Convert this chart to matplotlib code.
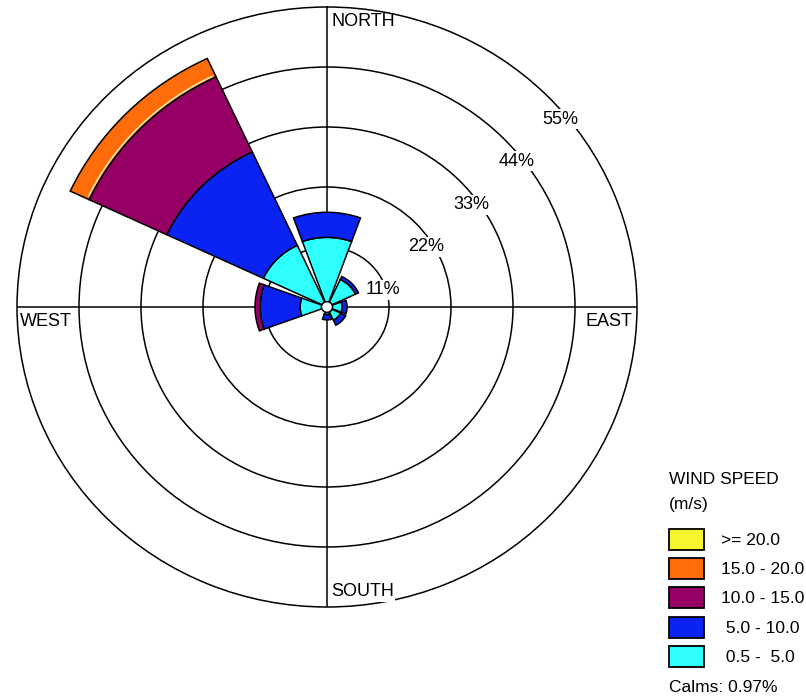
import numpy as np
import matplotlib
matplotlib.use("Agg")
import matplotlib.pyplot as plt
from matplotlib.patches import Rectangle

plt.rcParams['font.family'] = ['Liberation Sans', 'DejaVu Sans']

# ---- data -------------------------------------------------------------
directions = ['N', 'NE', 'E', 'SE', 'S', 'SW', 'W', 'NW']
bearings_deg = [0, 45, 90, 135, 180, 225, 270, 315]

# frequency (%) of each speed class per direction
freq_0p5_5 = [11.8, 4.6, 1.7, 1.7, 0.4, 0.0, 3.8, 11.5]
freq_5_10 = [4.6, 0.6, 0.9, 1.0, 1.0, 0.0, 7.1, 18.9]
freq_10_15 = [0.0, 0.0, 0.0, 0.0, 0.0, 0.0, 0.9, 15.2]
freq_15_20 = [0.0, 0.0, 0.0, 0.0, 0.0, 0.0, 0.0, 3.7]
freq_ge20 = [0.0, 0.0, 0.0, 0.0, 0.0, 0.0, 0.0, 0.0]

speed_labels = [' 0.5 -  5.0', ' 5.0 - 10.0', '10.0 - 15.0', '15.0 - 20.0', '>= 20.0']
speed_colors = ['#2EFFFF', '#0A22F2', '#960064', '#FF6C0A', '#F5F530']
calms_pct = 0.97

ring_values = [11, 22, 33, 44, 55]

# ---- figure -----------------------------------------------------------
W, H = 806, 699
fig = plt.figure(figsize=(W / 100, H / 100), dpi=100)
fig.patch.set_facecolor('white')

ax = fig.add_axes([17 / W, 92 / H, 620 / W, 600 / H], projection='polar')
ax.set_aspect('auto')
ax.set_theta_zero_location('N')
ax.set_theta_direction(-1)
ax.set_ylim(0, ring_values[-1])
ax.set_rgrids(ring_values[:-1], labels=[''] * (len(ring_values) - 1))
ax.set_thetagrids([0, 90, 180, 270], labels=[''] * 4)
ax.grid(True, color='black', linewidth=1.1)
ax.spines['polar'].set_color('black')
ax.spines['polar'].set_linewidth(1.1)
ax.set_axisbelow(True)
ax.tick_params(length=0)

theta = np.deg2rad(bearings_deg)
width = np.deg2rad(40)
series = [freq_0p5_5, freq_5_10, freq_10_15, freq_15_20, freq_ge20]
bottom = np.full(len(directions), calms_pct)
for k, (vals, color) in enumerate(zip(series, speed_colors)):
    vals = np.asarray(vals)
    m = vals > 0
    if m.any():
        ax.bar(theta[m], vals[m], width=width, bottom=bottom[m], color=color,
               edgecolor='black', linewidth=1.1, align='center', zorder=3)
        # pale seam along the inner edge of the 15-20 class
        if k == 3:
            for t0, r0 in zip(theta[m], bottom[m]):
                arc = np.linspace(t0 - width / 2 + 0.01, t0 + width / 2 - 0.01, 60)
                ax.plot(arc, np.full_like(arc, r0 + 0.35), color='#FFE2A8',
                        linewidth=1.2, zorder=4, solid_capstyle='butt')
    bottom = bottom + vals

# calm circle in the middle
th = np.linspace(0, 2 * np.pi, 200)
ax.fill(th, np.full_like(th, calms_pct), facecolor='white', edgecolor='black',
        linewidth=1.0, zorder=5)

# ring labels
label_bearings = [72.4, 57.9, 53.8, 51.5, 50.3]
label_radii = [10.33, 20.85, 31.79, 42.98, 53.84]
for v, b, r in zip(ring_values, label_bearings, label_radii):
    ax.text(np.deg2rad(b), r, f'{v}%', ha='center', va='center', fontsize=13,
            bbox=dict(facecolor='white', edgecolor='none', pad=1.0), zorder=6)

# compass labels
ax.text(0.5065, 0.975, 'NORTH', transform=ax.transAxes, ha='left', va='center',
        fontsize=13, zorder=6)
ax.text(0.5065, 0.025, 'SOUTH', transform=ax.transAxes, ha='left', va='center',
        fontsize=13, zorder=6,
        bbox=dict(facecolor='white', edgecolor='none', pad=1.0))
ax.text(0.005, 0.475, 'WEST', transform=ax.transAxes, ha='left', va='center',
        fontsize=13, zorder=6)
ax.text(0.992, 0.475, 'EAST', transform=ax.transAxes, ha='right', va='center',
        fontsize=13, zorder=6)

# ---- legend -----------------------------------------------------------
def fx(px):
    return px / W


def fy(py):
    return 1 - py / H


fig.text(fx(669), fy(479), 'WIND SPEED', ha='left', va='center', fontsize=12.5)
fig.text(fx(669), fy(504), '(m/s)', ha='left', va='center', fontsize=12.5)

box_centers = [539, 568, 597, 627, 656]
for lab, col, yc in zip(speed_labels[::-1], speed_colors[::-1], box_centers):
    fig.add_artist(Rectangle((fx(669), fy(yc + 10.5)), 35 / W, 21 / H,
                             transform=fig.transFigure, facecolor=col,
                             edgecolor='black', linewidth=1.3))
    fig.text(fx(721), fy(yc + 1.5), lab, ha='left', va='center', fontsize=12.5)

fig.text(fx(669), fy(688), f'Calms: {calms_pct:.2f}%', ha='left', va='center',
         fontsize=12.5)

fig.savefig('out.png', dpi=100, facecolor='white')
